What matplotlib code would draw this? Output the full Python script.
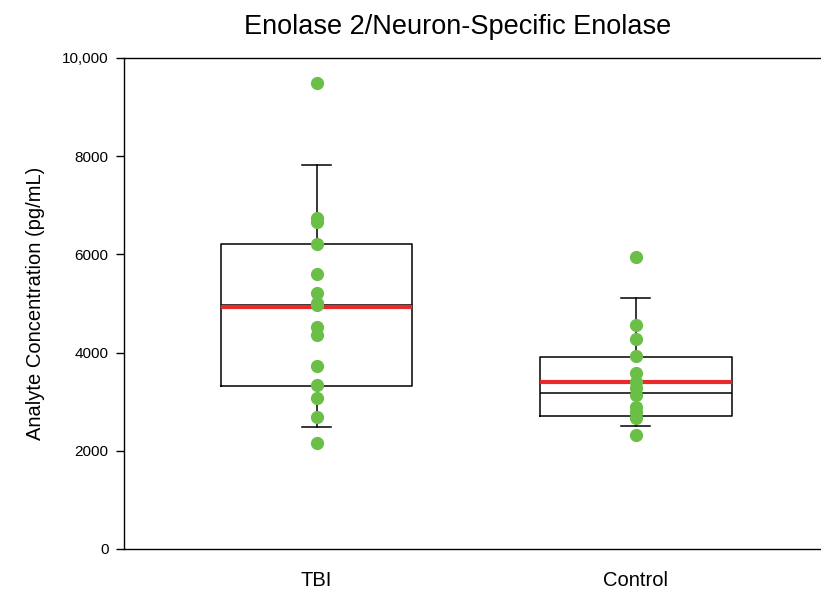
import matplotlib
matplotlib.use("Agg")
import matplotlib.pyplot as plt

categories = ["TBI", "Control"]
tbi_points = [9484, 6735, 6666, 6212, 5601, 5207, 5020, 4970, 4528, 4358, 3733, 3340, 3082, 2695, 2166]
control_points = [5953, 4562, 4277, 3924, 3578, 3410, 3270, 3140, 2898, 2800, 2660, 2322]
box_q1 = [3326, 2709]
box_q3 = [6212, 3917]
box_median = [4970, 3171]
box_mean = [4920, 3408]
whisker_low = [2478, 2505]
whisker_high = [7821, 5106]
y_ticks = [0, 2000, 4000, 6000, 8000, 10000]
y_ticklabels = ["0", "2000", "4000", "6000", "8000", "10,000"]

fig = plt.figure(figsize=(8.21, 5.93), dpi=100)
ax = fig.add_axes([124/821, 1-549/593, 1-124/821 + 0.002, (549-58)/593])

positions = [1, 2]
stats = []
for i in range(2):
    stats.append(dict(label=categories[i], q1=box_q1[i], q3=box_q3[i], med=box_median[i],
                      mean=box_mean[i], whislo=whisker_low[i], whishi=whisker_high[i], fliers=[]))

ax.bxp(stats, positions=positions, widths=0.6, showfliers=False, showmeans=True, meanline=True,
       boxprops=dict(color="black", linewidth=1.1),
       whiskerprops=dict(color="black", linewidth=1.1),
       capprops=dict(color="black", linewidth=1.1),
       medianprops=dict(color="black", linewidth=1.1),
       meanprops=dict(color="#ea2a2a", linewidth=3.0, linestyle="-"),
       capwidths=0.09)

ax.plot([1]*len(tbi_points), tbi_points, "o", color="#6abf47", markersize=9.5, markeredgewidth=0, zorder=5)
ax.plot([2]*len(control_points), control_points, "o", color="#6abf47", markersize=9.5, markeredgewidth=0, zorder=5)

ax.set_xlim(1 - 193/320, 1 + (821 - 317)/320 + 0.01)
ax.set_ylim(0, 10000)
ax.set_yticks(y_ticks)
ax.set_yticklabels(y_ticklabels, fontsize=11, family="Liberation Sans")
ax.set_xticks(positions)
ax.set_xticklabels(categories, fontsize=14.5, family="Liberation Sans")
ax.tick_params(axis="x", length=0, pad=16)
ax.tick_params(axis="y", length=6, width=1, direction="out", pad=5)
ax.spines["right"].set_visible(False)
for s in ["left", "top", "bottom"]:
    ax.spines[s].set_linewidth(1.0)

ax.set_ylabel("Analyte Concentration (pg/mL)", fontsize=14.5, family="Liberation Sans", labelpad=12)
fig.text(458/821, 1-27/593, "Enolase 2/Neuron-Specific Enolase", ha="center", va="center",
         fontsize=19.5, family="Liberation Sans")

fig.savefig("out.png", dpi=100)
